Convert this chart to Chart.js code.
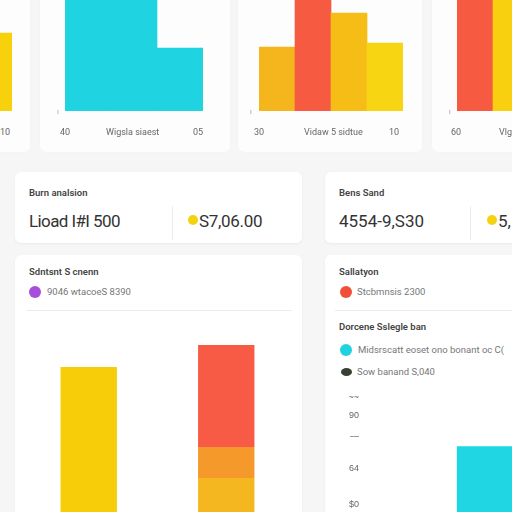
<!DOCTYPE html>
<html>
<head>
<meta charset="utf-8">
<script src="https://cdn.jsdelivr.net/npm/chart.js@4.4.0/dist/chart.umd.min.js"></script>
<style>
  html, body { margin: 0; padding: 0; width: 512px; height: 512px; overflow: hidden; background: #f6f6f6; font-family: Roboto, "Noto Sans", sans-serif; }
  .card { position: absolute; background: #fff; border-radius: 6px; box-shadow: 0 1px 3px rgba(0,0,0,0.05); }
  .card.faint { box-shadow: 0 0 2px rgba(0,0,0,0.03); background: #fdfdfd; }
  .box { position: absolute; }
  .t { position: absolute; white-space: nowrap; line-height: 1; }
  .small { font-size: 9px; color: #666; }
  .tick { font-size: 7px; color: #999; }
  .head { font-size: 9.5px; font-weight: 600; color: #444; }
  .big { font-size: 17px; color: #333; }
  .note { font-size: 9.5px; color: #777; }
  .dot { position: absolute; border-radius: 50%; }
  .rule { position: absolute; background: #ececec; }
</style>
</head>
<body>
<!-- top row cards -->
<div class="card faint" style="left:-160px; top:-10px; width:190px; height:162px;"></div>
<div class="card faint" style="left:40px; top:-10px; width:190px; height:162px;"></div>
<div class="card faint" style="left:238px; top:-10px; width:184px; height:162px;"></div>
<div class="card faint" style="left:432px; top:-10px; width:190px; height:162px;"></div>

<div class="box" style="left:-24px; top:-39px; width:36px; height:150px;"><canvas id="top1"></canvas></div>
<div class="box" style="left:65px; top:-39px; width:138px; height:150px;"><canvas id="top2"></canvas></div>
<div class="box" style="left:259px; top:-39px; width:144px; height:150px;"><canvas id="top3"></canvas></div>
<div class="box" style="left:457px; top:-39px; width:72px; height:150px;"><canvas id="top4"></canvas></div>

<div class="t tick" style="left:57px; top:109px;">ı</div>
<div class="t tick" style="left:250px; top:109px;">ı</div>
<div class="t tick" style="left:449px; top:109px;">ı</div>

<div class="t small" style="left:0px; top:128px;">10</div>
<div class="t small" style="left:60px; top:128px;">40</div>
<div class="t small" style="left:106px; top:128px;">Wigsla siaest</div>
<div class="t small" style="left:193px; top:128px;">05</div>
<div class="t small" style="left:254px; top:128px;">30</div>
<div class="t small" style="left:304px; top:128px;">Vidaw 5 sidtue</div>
<div class="t small" style="left:389px; top:128px;">10</div>
<div class="t small" style="left:451px; top:128px;">60</div>
<div class="t small" style="left:499px; top:128px;">Vlg</div>

<!-- summary cards -->
<div class="card" style="left:15px; top:172px; width:287px; height:71px;"></div>
<div class="t head" style="left:29px; top:188px;">Burn analsion</div>
<div class="t big" style="left:29px; top:213px; letter-spacing:-0.6px;">Lioad I#I 500</div>
<div class="rule" style="left:172px; top:206px; width:1px; height:34px;"></div>
<div class="dot" style="left:188px; top:215px; width:10px; height:10px; background:#f5d20f;"></div>
<div class="t big" style="left:199px; top:213px; letter-spacing:-0.3px;">S7,06.00</div>

<div class="card" style="left:325px; top:172px; width:200px; height:71px;"></div>
<div class="t head" style="left:339px; top:188px;">Bens Sand</div>
<div class="t big" style="left:339px; top:213px;">4554-9,S30</div>
<div class="rule" style="left:470px; top:206px; width:1px; height:34px;"></div>
<div class="dot" style="left:487px; top:215px; width:10px; height:10px; background:#f5d20f;"></div>
<div class="t big" style="left:498px; top:213px;">5,</div>

<!-- lower cards -->
<div class="card" style="left:15px; top:255px; width:287px; height:280px;"></div>
<div class="t head" style="left:29px; top:267px;">Sdntsnt S cnenn</div>
<div class="dot" style="left:29px; top:286px; width:12px; height:12px; background:#a54fdc;"></div>
<div class="t note" style="left:47px; top:287px;">9046 wtacoeS 8390</div>
<div class="rule" style="left:27px; top:310px; width:265px; height:1px;"></div>
<div class="box" style="left:20px; top:320px; width:275px; height:220px;"><canvas id="lowLeft"></canvas></div>

<div class="card" style="left:325px; top:255px; width:200px; height:280px;"></div>
<div class="t head" style="left:339px; top:267px;">Sallatyon</div>
<div class="dot" style="left:340px; top:286px; width:12px; height:12px; background:#f0503a;"></div>
<div class="t note" style="left:357px; top:287px;">Stcbmnsis 2300</div>
<div class="rule" style="left:335px; top:310px; width:190px; height:1px;"></div>
<div class="t head" style="left:339px; top:322px;">Dorcene Sslegle ban</div>
<div class="dot" style="left:340px; top:344px; width:12px; height:12px; background:#1ed3e0;"></div>
<div class="t note" style="left:358px; top:345px;">Midsrscatt eoset ono bonant oc C(</div>
<div class="dot" style="left:341px; top:368px; width:11px; height:8px; background:#3a3f34;"></div>
<div class="t note" style="left:357px; top:367px;">Sow banand S,040</div>
<div class="box" style="left:335px; top:376px; width:300px; height:176px;"><canvas id="lowRight"></canvas></div>

<script>
// values (bar heights in chart units)
var top1Cats = ['a'];
var top1Vals = [78];
var top2Cats = ['a', 'b', 'c'];
var top2Vals = [140, 140, 63];
var top3Cats = ['a', 'b', 'c', 'd'];
var top3Vals = [64, 140, 98, 68];
var top4Cats = ['a', 'b'];
var top4Vals = [140, 140];

var lowCats = ['first', 'second'];
var lowBase = [173, 62];
var lowMid = [0, 31];
var lowTop = [0, 102];

var rightCats = ['one'];
var rightVals = [95];
var rightTickVals = [38, 73, 105, 125, 143];
var rightTickLabels = ['$0', '64', '\u2014', '90', '~~'];

function topChart(id, cats, vals, colors) {
  var ctx = document.getElementById(id).getContext('2d');
  return new Chart(ctx, {
    type: 'bar',
    data: {
      labels: cats,
      datasets: [{
        data: vals,
        backgroundColor: colors,
        borderWidth: 0,
        barPercentage: 1,
        categoryPercentage: 1
      }]
    },
    options: {
      responsive: true,
      maintainAspectRatio: false,
      animation: false,
      layout: { padding: 0 },
      plugins: { legend: { display: false }, tooltip: { enabled: false } },
      scales: {
        x: { display: false },
        y: { display: false, min: 0, max: 150 }
      }
    }
  });
}

topChart('top1', top1Cats, top1Vals, ['#f7d20c']);
topChart('top2', top2Cats, top2Vals, ['#1fd3e0', '#1fd3e0', '#1fd3e0']);
topChart('top3', top3Cats, top3Vals, ['#f5b51c', '#f65a41', '#f7bd17', '#f8d512']);
topChart('top4', top4Cats, top4Vals, ['#f65a41', '#f8d010']);

// lower left, stacked
var ctx = document.getElementById('lowLeft').getContext('2d');
var chartLowLeft = new Chart(ctx, {
  type: 'bar',
  data: {
    labels: lowCats,
    datasets: [
      { data: lowBase, backgroundColor: ['#f7cd0a', '#f5b720'], barPercentage: 0.41, categoryPercentage: 1 },
      { data: lowMid, backgroundColor: '#f59a2a', barPercentage: 0.41, categoryPercentage: 1 },
      { data: lowTop, backgroundColor: '#f75a45', barPercentage: 0.41, categoryPercentage: 1 }
    ]
  },
  options: {
    responsive: true,
    maintainAspectRatio: false,
    animation: false,
    layout: { padding: 0 },
    plugins: { legend: { display: false }, tooltip: { enabled: false } },
    scales: {
      x: { display: false, stacked: true },
      y: { display: false, stacked: true, min: 0, max: 220 }
    }
  }
});

// lower right
var ctx = document.getElementById('lowRight').getContext('2d');
var chartLowRight = new Chart(ctx, {
  type: 'bar',
  data: {
    labels: rightCats,
    datasets: [{
      data: rightVals,
      backgroundColor: '#1fd6e2',
      barPercentage: 0.31,
      categoryPercentage: 1
    }]
  },
  options: {
    responsive: true,
    maintainAspectRatio: false,
    animation: false,
    layout: { padding: 0 },
    plugins: { legend: { display: false }, tooltip: { enabled: false } },
    scales: {
      x: { display: false },
      y: {
        min: 0,
        max: 155,
        grid: { display: false, drawTicks: false },
        border: { display: false },
        afterFit: function (s) { s.width = 28; },
        afterBuildTicks: function (s) {
          s.ticks = rightTickVals.map(function (v) { return { value: v }; });
        },
        ticks: {
          padding: 4,
          font: { size: 9 },
          color: '#666',
          callback: function (v) {
            var i = rightTickVals.indexOf(v);
            return i >= 0 ? rightTickLabels[i] : null;
          }
        }
      }
    }
  }
});
</script>
</body>
</html>
